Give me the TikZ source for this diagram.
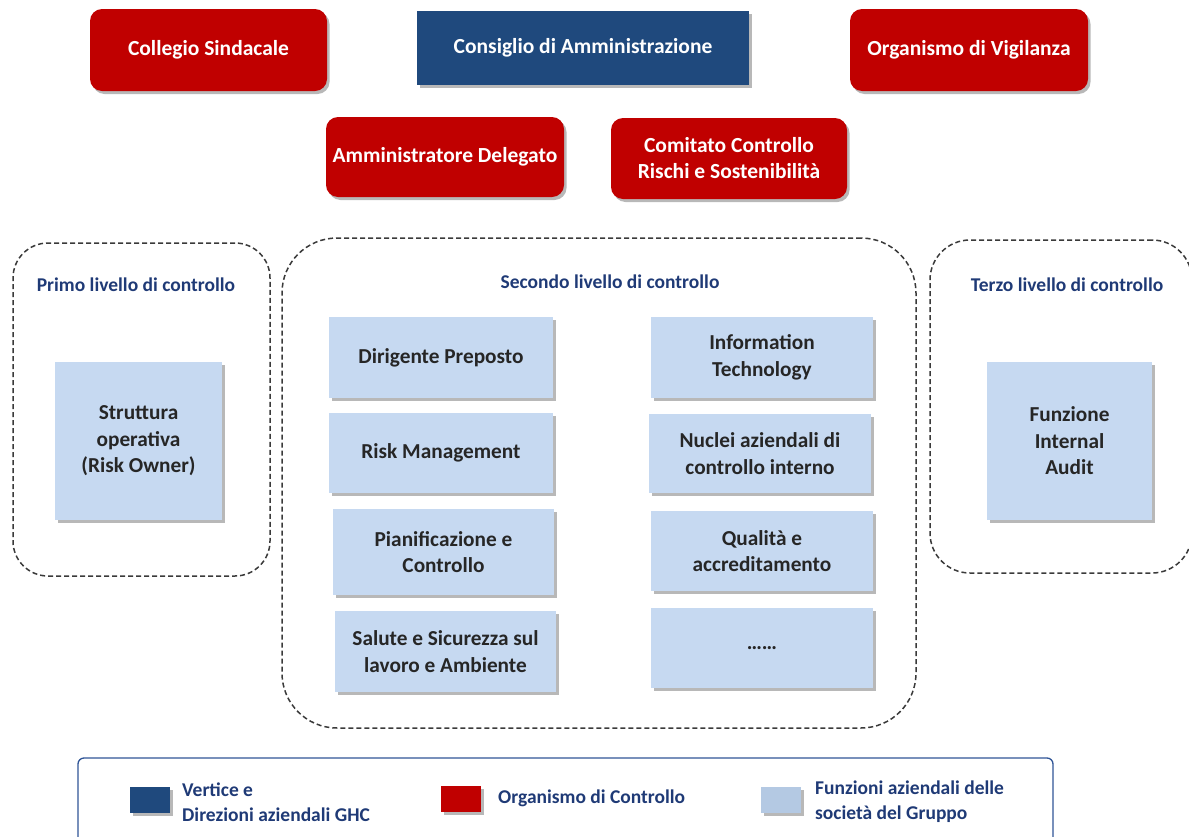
\documentclass[tikz,border=0pt]{standalone}
\usepackage{fontspec}
\setmainfont{Carlito}
\usetikzlibrary{shadows}
\definecolor{cred}{HTML}{C00000}
\definecolor{cblue}{HTML}{1F497D}
\definecolor{clight}{HTML}{C6D9F1}
\definecolor{clegl}{HTML}{B4C9E3}
\definecolor{ctitle}{HTML}{1F3A76}
\definecolor{ctext}{HTML}{262626}
\definecolor{cdash}{HTML}{3A3A3A}
\definecolor{clegbd}{HTML}{2F5496}
\begin{document}
\begin{tikzpicture}[x=1pt,y=-1pt,
  shad/.style={drop shadow={shadow xshift=2.5pt,shadow yshift=-3pt,opacity=0.35,fill=black!80}},
  topbox/.style={inner sep=0pt, align=center, text=white, font=\bfseries\fontsize{21.5}{26}\selectfont, shad},
  redbox/.style={topbox, fill=cred, rounded corners=12pt},
  bluebox/.style={topbox, fill=cblue},
  funbox/.style={inner sep=0pt, align=center, fill=clight, text=ctext, font=\bfseries\fontsize{21.3}{26.5}\selectfont, shad},
  levelbox/.style={draw=cdash, dash pattern=on 5pt off 3pt, line width=1.5pt, inner sep=0pt},
  leveltitle/.style={text=ctitle, font=\bfseries\fontsize{19.5}{22}\selectfont, inner sep=0pt},
  legsq/.style={inner sep=0pt, minimum width=40pt, minimum height=26pt, shad},
  legtext/.style={text=ctitle, font=\bfseries\fontsize{19.5}{25}\selectfont, inner sep=0pt, align=left, anchor=west}
]
\useasboundingbox (0,0) rectangle (1189,836);
\clip (0,0) rectangle (1189,836);

% top boxes
\node[redbox, minimum width=237pt, minimum height=82pt] (cs) at (208.5,50) {Collegio Sindacale};
\node[bluebox, minimum width=332pt, minimum height=74pt] (cda) at (583,48) {Consiglio di Amministrazione};
\node[redbox, minimum width=238pt, minimum height=82pt] (odv) at (969,50) {Organismo di Vigilanza};
\node[redbox, minimum width=238pt, minimum height=80pt] (ad) at (445,157) {Amministratore Delegato};
\node[redbox, minimum width=236pt, minimum height=81pt] (ccrs) at (729,158.5) {Comitato Controllo\\Rischi e Sostenibilità};

% level containers
\node[levelbox, rounded corners=35pt, minimum width=257pt, minimum height=333pt] (l1) at (141.5,409.5) {};
\node[levelbox, rounded corners=55pt, minimum width=634pt, minimum height=490pt] (l2) at (599,483) {};
\node[levelbox, rounded corners=40pt, minimum width=262pt, minimum height=333pt] (l3) at (1061,406.5) {};

\node[leveltitle] (t1) at (136,285) {Primo livello di controllo};
\node[leveltitle] (t2) at (610,282) {Secondo livello di controllo};
\node[leveltitle] (t3) at (1067,285) {Terzo livello di controllo};

% function boxes
\node[funbox, minimum width=167pt, minimum height=158pt] (so) at (138.5,441) {Struttura\\operativa\\(Risk Owner)};
\node[funbox, minimum width=224pt, minimum height=81pt] (dp) at (441,357.5) {Dirigente Preposto};
\node[funbox, minimum width=224pt, minimum height=80pt] (rm) at (441,453) {Risk Management};
\node[funbox, minimum width=221pt, minimum height=86pt] (pc) at (443.5,552) {Pianificazione e\\Controllo};
\node[funbox, minimum width=221pt, minimum height=81pt] (ss) at (445.5,651.5) {Salute e Sicurezza sul\\lavoro e Ambiente};
\node[funbox, minimum width=222pt, minimum height=81pt] (it) at (762,357.5) {Information\\Technology};
\node[funbox, minimum width=222pt, minimum height=79pt] (na) at (760,453.5) {Nuclei aziendali di\\controllo interno};
\node[funbox, minimum width=222pt, minimum height=80pt] (qa) at (762,551) {Qualità e\\accreditamento};
\node[funbox, minimum width=222pt, minimum height=80pt] (dots) at (762,648) {……};
\node[funbox, minimum width=165pt, minimum height=158pt] (fia) at (1069.5,441) {Funzione\\Internal\\Audit};

% legend
\node[draw=clegbd, line width=1.3pt, rounded corners=6pt, minimum width=975pt, minimum height=100pt, inner sep=0pt] (leg) at (565.5,808) {};
\node[legsq, fill=cblue] (lq1) at (150,800) {};
\node[legtext] (lt1) at (182,802) {Vertice e\\Direzioni aziendali GHC};
\node[legsq, fill=cred] (lq2) at (461,799) {};
\node[legtext] (lt2) at (498,798) {Organismo di Controllo};
\node[legsq, fill=clegl] (lq3) at (781,800) {};
\node[legtext] (lt3) at (815,802) {Funzioni aziendali delle\\società del Gruppo};
\end{tikzpicture}
\end{document}
